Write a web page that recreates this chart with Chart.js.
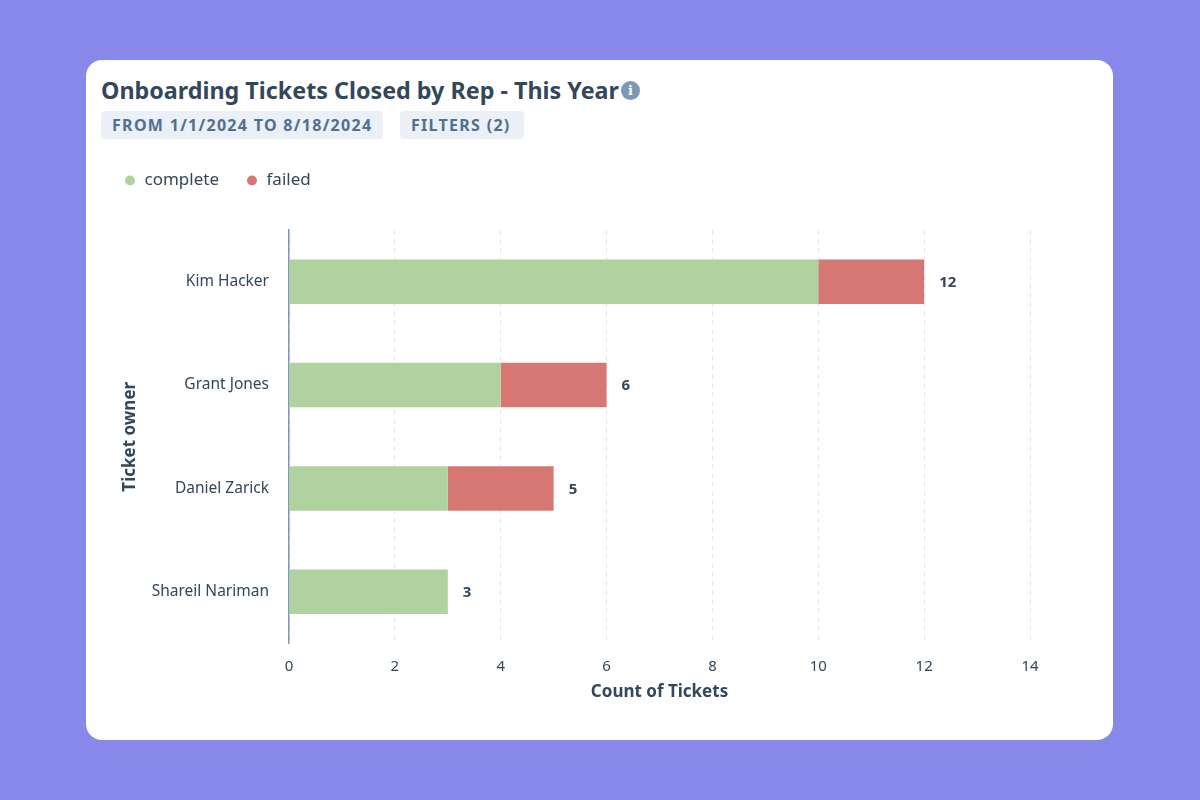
<!DOCTYPE html>
<html>
<head>
<meta charset="utf-8">
<script src="https://cdn.jsdelivr.net/npm/chart.js@4.4.1/dist/chart.umd.min.js"></script>
<style>
  body { margin: 0; width: 1200px; height: 800px; background: #8788e9; font-family: "Noto Sans", sans-serif; overflow: hidden; }
  .card { position: absolute; left: 86px; top: 60px; width: 1027px; height: 680px; background: #fff; border-radius: 16px; }
  .title { position: absolute; left: 101px; top: 74px; font-size: 23.3px; font-weight: 700; color: #33475b; white-space: nowrap; display: flex; align-items: center; }
  .info { display: inline-block; width: 19px; height: 19px; border-radius: 50%; background: #7c98b6; color: #fff; font-size: 13px; font-weight: 700; line-height: 19px; text-align: center; margin-left: 2px; font-family: "DejaVu Serif", serif; }
  .badge { position: absolute; top: 111px; height: 28px; line-height: 28px; background: #eaf0f6; color: #516f90; font-size: 16px; font-weight: 700; letter-spacing: 1.3px; border-radius: 4px; padding: 0 11px; box-sizing: border-box; white-space: nowrap; }
  #wrap { position: absolute; left: 97px; top: 140px; width: 1000px; height: 580px; }
</style>
</head>
<body>
<div class="card"></div>
<div class="title">Onboarding Tickets Closed by Rep - This Year<span class="info">i</span></div>
<div class="badge" style="left:101px;width:282px;">FROM 1/1/2024 TO 8/18/2024</div>
<div class="badge" style="left:400px;width:124px;">FILTERS (2)</div>
<div id="wrap"><canvas id="chart"></canvas></div>
<script>
const owners = ["Kim Hacker", "Grant Jones", "Daniel Zarick", "Shareil Nariman"];
const complete = [10, 4, 3, 3];
const failed = [2, 2, 2, 0];
const xTicks = [0, 2, 4, 6, 8, 10, 12, 14];

const textColor = "#33475b";
const fontFamily = "Noto Sans";

// extra room between the legend and the plot
const legendSpacer = {
    id: "legendSpacer",
    beforeInit(chart) {
        const origFit = chart.legend.fit;
        chart.legend.fit = function() {
            origFit.call(this);
            this.height += 31;
        };
    }
};

// bold total at the end of each stacked bar
const totalLabels = {
    id: "totalLabels",
    afterDatasetsDraw(chart) {
        const { ctx, scales: { x, y } } = chart;
        ctx.save();
        ctx.font = "700 15px " + fontFamily;
        ctx.fillStyle = textColor;
        ctx.textAlign = "left";
        ctx.textBaseline = "middle";
        for(let i = 0; i < owners.length; i++) {
            const total = complete[i] + failed[i];
            ctx.fillText(String(total), x.getPixelForValue(total) + 15, y.getPixelForValue(i) + 1);
        }
        ctx.restore();
    }
};

new Chart(document.getElementById("chart"), {
    type: "bar",
    data: {
        labels: owners,
        datasets: [
            { label: "complete", data: complete, backgroundColor: "#afd29e", borderWidth: 0 },
            { label: "failed", data: failed, backgroundColor: "#d77773", borderWidth: 0 }
        ]
    },
    options: {
        indexAxis: "y",
        responsive: true,
        maintainAspectRatio: false,
        animation: false,
        layout: { padding: { top: 5, right: 67, left: 0, bottom: 0 } },
        datasets: { bar: { categoryPercentage: 1, barPercentage: 0.43 } },
        plugins: {
            legend: {
                position: "top",
                align: "start",
                labels: {
                    usePointStyle: true,
                    pointStyle: "circle",
                    boxWidth: 12,
                    boxHeight: 7,
                    padding: 27,
                    color: textColor,
                    font: { family: fontFamily, size: 17 }
                }
            },
            tooltip: { enabled: false }
        },
        scales: {
            x: {
                stacked: true,
                min: 0,
                max: 14,
                afterBuildTicks(scale) { scale.ticks = xTicks.map(v => ({ value: v })); },
                afterFit(scale) { scale.height = 76.5; },
                grid: { color: "#e3e7ee", lineWidth: 1, drawTicks: false },
                border: { display: false, dash: [5, 4] },
                ticks: { padding: 14, color: textColor, font: { family: fontFamily, size: 15 } },
                title: { display: true, text: "Count of Tickets", color: textColor, padding: { top: 0, bottom: 18 }, font: { family: fontFamily, size: 17, weight: "700" } }
            },
            y: {
                stacked: true,
                afterFit(scale) { scale.width = 192; },
                grid: { display: false, drawTicks: false },
                border: { display: true, color: "#7c98b6", width: 1.5 },
                ticks: { padding: 20, color: textColor, font: { family: fontFamily, size: 15.5 } },
                title: { display: true, text: "Ticket owner", color: textColor, padding: { top: 23, bottom: 0 }, font: { family: fontFamily, size: 17, weight: "700" } }
            }
        }
    },
    plugins: [legendSpacer, totalLabels]
});
</script>
</body>
</html>
